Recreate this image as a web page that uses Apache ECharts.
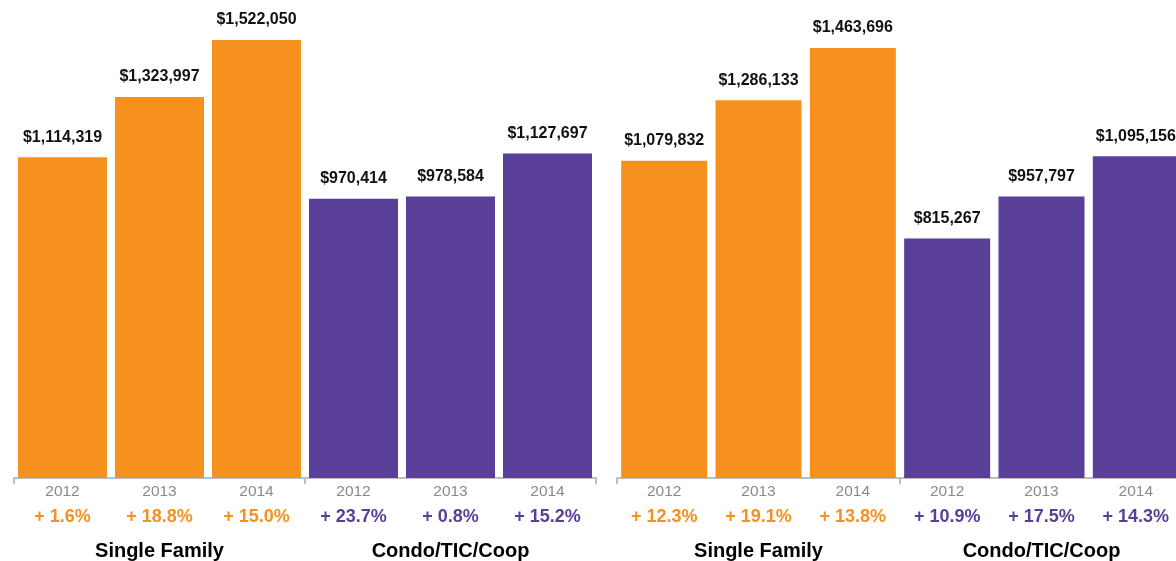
<!DOCTYPE html>
<html>
<head>
<meta charset="utf-8">
<script src="https://cdn.jsdelivr.net/npm/echarts@6/dist/echarts.min.js"></script>
<style>
  html, body { margin: 0; padding: 0; background: #fff; overflow: hidden; width: 1176px; height: 561px; }
  #chart { width: 1200px; height: 561px; }
</style>
</head>
<body>
<div id="chart"></div>
<script>
// ---- data ----
const categoryKeys = ['SF-2012', 'SF-2013', 'SF-2014', 'CT-2012', 'CT-2013', 'CT-2014'];
const yearLabels = ['2012', '2013', '2014', '2012', '2013', '2014'];
const groupNames = ['Single Family', 'Condo/TIC/Coop'];

const leftValues = [1114319, 1323997, 1522050, 970414, 978584, 1127697];
const leftChanges = ['+ 1.6%', '+ 18.8%', '+ 15.0%', '+ 23.7%', '+ 0.8%', '+ 15.2%'];

const rightValues = [1079832, 1286133, 1463696, 815267, 957797, 1095156];
const rightChanges = ['+ 12.3%', '+ 19.1%', '+ 13.8%', '+ 10.9%', '+ 17.5%', '+ 14.3%'];

// ---- styles ----
const ORANGE = '#F6901E';
const PURPLE = '#5A3F99';
const FONT = '"Liberation Sans", Arial, Helvetica, sans-serif';

function barColors(values) {
  return values.map((v, i) => ({ value: v, itemStyle: { color: i < 3 ? ORANGE : PURPLE } }));
}

function catAxis(gridIndex, changes) {
  return {
    type: 'category',
    gridIndex: gridIndex,
    position: 'bottom',
    data: categoryKeys,
    axisLine: { show: true, lineStyle: { color: '#bdbdbd', width: 2 } },
    axisTick: {
      show: true,
      interval: (idx) => idx % 3 === 0,
      length: 6,
      lineStyle: { color: '#bdbdbd', width: 2 }
    },
    axisLabel: {
      interval: 0,
      margin: 4,
      fontFamily: FONT,
      formatter: (val, idx) => '{y|' + yearLabels[idx] + '}\n{' + (idx < 3 ? 'po' : 'pp') + '|' + changes[idx] + '}',
      rich: {
        y: { fontSize: 15.5, color: '#8a8a8a', lineHeight: 19, fontFamily: FONT },
        po: { fontSize: 18, fontWeight: 'bold', color: ORANGE, lineHeight: 32, fontFamily: FONT },
        pp: { fontSize: 18, fontWeight: 'bold', color: PURPLE, lineHeight: 32, fontFamily: FONT }
      }
    }
  };
}

function groupAxis(gridIndex) {
  return {
    type: 'category',
    gridIndex: gridIndex,
    position: 'bottom',
    data: groupNames,
    axisLine: { show: false },
    axisTick: { show: false },
    axisLabel: {
      interval: 0,
      margin: 63,
      fontSize: 20,
      fontWeight: 'bold',
      color: '#000',
      fontFamily: FONT
    }
  };
}

const labelStyle = {
  show: true,
  position: 'top',
  distance: 12,
  fontSize: 16,
  fontWeight: 'bold',
  color: '#111',
  fontFamily: FONT,
  formatter: (p) => '$' + p.value.toLocaleString('en-US')
};

const chart = echarts.init(document.getElementById('chart'), null, { renderer: 'canvas' });
chart.setOption({
  animation: false,
  backgroundColor: '#fff',
  grid: [
    { left: 14, width: 582, top: 0, bottom: 83, containLabel: false },
    { left: 617, width: 566, top: 0, bottom: 83, containLabel: false }
  ],
  xAxis: [
    catAxis(0, leftChanges),
    catAxis(1, rightChanges),
    groupAxis(0),
    groupAxis(1)
  ],
  yAxis: [
    { type: 'value', gridIndex: 0, min: 0, max: 1661000, show: false, splitLine: { show: false } },
    { type: 'value', gridIndex: 1, min: 0, max: 1627000, show: false, splitLine: { show: false } }
  ],
  series: [
    {
      type: 'bar', xAxisIndex: 0, yAxisIndex: 0, barWidth: 89,
      data: barColors(leftValues), label: labelStyle
    },
    {
      type: 'bar', xAxisIndex: 1, yAxisIndex: 1, barWidth: 86,
      data: barColors(rightValues), label: labelStyle
    }
  ]
});
</script>
</body>
</html>
